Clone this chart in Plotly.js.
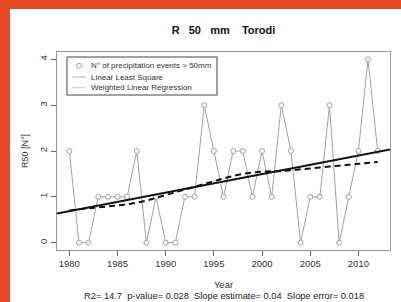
<!DOCTYPE html>
<html>
<head>
<meta charset="utf-8">
<script src="https://cdn.plot.ly/plotly-3.0.1.min.js"></script>
<style>
html, body { margin:0; padding:0; width:401px; height:302px; background:#E64B26; overflow:hidden; }
#chart { position:absolute; left:10px; top:9px; width:391px; height:293px; background:#fff; }
</style>
</head>
<body>
<div id="chart"></div>
<script>
// Data
var years = [1980,1981,1982,1983,1984,1985,1986,1987,1988,1989,1990,1991,1992,1993,1994,1995,1996,
             1997,1998,1999,2000,2001,2002,2003,2004,2005,2006,2007,2008,2009,2010,2011,2012];
var events = [2,0,0,1,1,1,1,2,0,1,0,0,1,1,3,2,1,2,2,1,2,1,3,2,0,1,1,3,0,1,2,4,2];

// Weighted (smoothed) regression curve
var smoothYears  = [1980,1982,1984,1986,1988,1990,1992,1994,1996,1998,2000,2002,2004,2006,2008,2010,2012];
var smoothValues = [0.70,0.75,0.79,0.84,0.92,1.04,1.16,1.28,1.40,1.50,1.55,1.56,1.60,1.64,1.68,1.72,1.76];

var xTicks = [1980,1985,1990,1995,2000,2005,2010];
var yTicks = [0,1,2,3,4];
var xRange = [1978.72, 2013.28];
var yRange = [-0.16, 4.16];

var titleText = 'R\u00A0\u00A0\u00A050\u00A0\u00A0\u00A0mm\u00A0\u00A0\u00A0\u00A0Torodi';
var statsText = 'R2= 14.7\u00A0\u00A0p-value= 0.028\u00A0\u00A0Slope estimate= 0.04\u00A0\u00A0Slope error= 0.018';
var legendLabels = ['N\u00B0 of precipitation events > 50mm', 'Linear Least Square', 'Weighted Linear Regression'];

// Ordinary least squares fit of the data
var n = years.length, mx = 0, my = 0;
for (var i = 0; i < n; i++) { mx += years[i]; my += events[i]; }
mx /= n; my /= n;
var sxy = 0, sxx = 0;
for (var i = 0; i < n; i++) { sxy += (years[i]-mx)*(events[i]-my); sxx += (years[i]-mx)*(years[i]-mx); }
var slope = sxy/sxx, intercept = my - slope*mx;
var fitX = xRange.slice();
var fitY = fitX.map(function(x){ return intercept + slope*x; });

var grey = '#a0a0a0';
var traces = [
  { x: years, y: events, mode: 'lines+markers', showlegend: false,
    line: { color: grey, width: 1 },
    marker: { symbol: 'circle', size: 5, color: '#ffffff', line: { color: grey, width: 1 } } },
  { x: fitX, y: fitY, mode: 'lines', showlegend: false,
    line: { color: '#111', width: 2 } },
  { x: smoothYears, y: smoothValues, mode: 'lines', showlegend: false,
    line: { color: '#111', width: 2, dash: '6px,4px', shape: 'spline' } }
];

// plot-area helpers for the hand-drawn legend (paper coords)
function px(a){ return (a-57)/333; }
function py(a){ return (250-a)/198; }
var rows = [65.7, 77, 87.7];
var shapes = [
  { type:'rect', xref:'paper', yref:'paper', x0:px(67), x1:px(217), y0:py(95), y1:py(57),
    line:{ color:'#444', width:1 }, fillcolor:'rgba(0,0,0,0)' },
  { type:'circle', xref:'paper', yref:'paper', x0:px(76.5), x1:px(81.5), y0:py(rows[0]+2.5), y1:py(rows[0]-2.5),
    line:{ color:grey, width:1 } },
  { type:'line', xref:'paper', yref:'paper', x0:px(72), x1:px(86), y0:py(rows[1]), y1:py(rows[1]),
    line:{ color:'#b0b0b0', width:1 } },
  { type:'line', xref:'paper', yref:'paper', x0:px(72), x1:px(86), y0:py(rows[2]), y1:py(rows[2]),
    line:{ color:'#cfcfcf', width:1 } }
];
var annotations = legendLabels.map(function(t, k){
  return { text: t, xref:'paper', yref:'paper', x: px(89), y: py(rows[k]), xanchor:'left', yanchor:'middle',
           showarrow:false, font:{ family:'Liberation Sans, Arial, sans-serif', size:8, color:'#333' } };
});
annotations.push({ text: statsText, xref:'paper', yref:'paper', x:0.5, y: py(296), xanchor:'center', yanchor:'middle',
  showarrow:false, font:{ family:'Liberation Sans, Arial, sans-serif', size:9.3, color:'#222' } });

var layout = {
  width: 391, height: 293,
  margin: { l:47, r:11, t:43, b:52 },
  paper_bgcolor:'#ffffff', plot_bgcolor:'#ffffff',
  showlegend:false,
  title: { text: titleText, x:0.5, xref:'paper', xanchor:'center', y: 1-21/293, yanchor:'middle',
           font:{ family:'Liberation Sans, Arial, sans-serif', size:11, color:'#111', weight:'bold' } },
  xaxis: { range: xRange, tickvals: xTicks, ticktext: xTicks.map(String), ticks:'outside', ticklen:5,
           tickcolor:'#666', showgrid:false, zeroline:false, showline:true, mirror:true, linecolor:'#999', linewidth:1,
           tickfont:{ family:'Liberation Sans, Arial, sans-serif', size:9.5, color:'#333' },
           title:{ text:'Year', standoff:12, font:{ family:'Liberation Sans, Arial, sans-serif', size:9.5, color:'#333' } } },
  yaxis: { range: yRange, tickvals: yTicks, ticktext: yTicks.map(String), ticks:'outside', ticklen:5, tickangle:-90,
           tickcolor:'#666', showgrid:false, zeroline:false, showline:true, mirror:true, linecolor:'#999', linewidth:1,
           tickfont:{ family:'Liberation Sans, Arial, sans-serif', size:9.5, color:'#333' },
           title:{ text:'R50 [N\u00B0]', standoff:8, font:{ family:'Liberation Sans, Arial, sans-serif', size:9, color:'#333' } } },
  shapes: shapes,
  annotations: annotations
};

Plotly.newPlot('chart', traces, layout, { staticPlot:true, displayModeBar:false });
</script>
</body>
</html>
